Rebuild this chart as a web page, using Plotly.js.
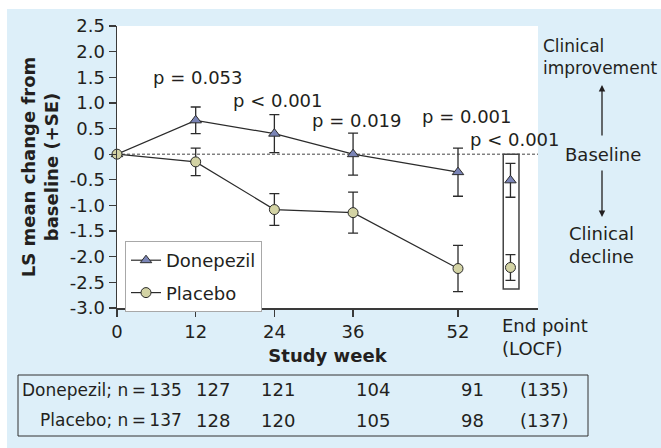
<!DOCTYPE html>
<html>
<head>
<meta charset="utf-8">
<script src="https://cdn.plot.ly/plotly-3.0.1.min.js"></script>
<style>
  html, body { margin: 0; padding: 0; background: #ffffff; }
  #chart { position: absolute; left: 7px; top: 9px; width: 654px; height: 439px; }
</style>
</head>
<body>
<div id="chart"></div>
<script>
// ---- data ----
var weeks = [0, 12, 24, 36, 52];
var weekLabels = ['0', '12', '24', '36', '52'];
var donepezilMean = [0, 0.66, 0.40, 0.00, -0.35];
var donepezilSE   = [0, 0.26, 0.37, 0.41, 0.47];
var placeboMean   = [0, -0.15, -1.08, -1.14, -2.23];
var placeboSE     = [0, 0.27, 0.31, 0.40, 0.45];
var donepezilEnd = -0.51, donepezilEndSE = 0.33;
var placeboEnd = -2.21, placeboEndSE = 0.25;
var pLabels = ['p = 0.053', 'p < 0.001', 'p = 0.019', 'p = 0.001', 'p < 0.001'];
var yTickVals = [-3, -2.5, -2, -1.5, -1, -0.5, 0, 0.5, 1, 1.5, 2, 2.5];
var yTickText = ['-3.0', '-2.5', '-2.0', '-1.5', '-1.0', '-0.5', '0', '0.5', '1.0', '1.5', '2.0', '2.5'];
var donepezilN = ['Donepezil; n\u2009=\u2009135', '127', '121', '104', '91', '(135)'];
var placeboN   = ['Placebo; n\u2009=\u2009137', '128', '120', '105', '98', '(137)'];

// ---- layout helpers (absolute page pixels -> paper) ----
var PL = 117, PR = 538, PT = 26, PB = 308;
function xp(x) { return (x - PL) / (PR - PL); }
function yp(y) { return (PB - y) / (PB - PT); }
var endX = 60;              // x position of the LOCF end point column
var FONT = 'DejaVu Sans, Arial, sans-serif';
var INK = '#231f20';

var donColor = '#7a84b6', plaColor = '#d3d3a4';

var traces = [
  {
    x: weeks, y: donepezilMean, name: 'Donepezil', legendgroup: 'a',
    mode: 'lines+markers', cliponaxis: false,
    line: { color: '#2b2b2b', width: 1.2 },
    marker: { symbol: 'triangle-up', size: 10, color: donColor, line: { color: '#2b2b2b', width: 1 } },
    error_y: { type: 'data', array: donepezilSE, visible: true, color: '#2b2b2b', thickness: 1.3, width: 5 }
  },
  {
    x: weeks, y: placeboMean, name: 'Placebo', legendgroup: 'b',
    mode: 'lines+markers', cliponaxis: false,
    line: { color: '#2b2b2b', width: 1.2 },
    marker: { symbol: 'circle', size: 10, color: plaColor, line: { color: '#2b2b2b', width: 1 } },
    error_y: { type: 'data', array: placeboSE, visible: true, color: '#2b2b2b', thickness: 1.3, width: 5 }
  },
  {
    x: [endX], y: [donepezilEnd], showlegend: false, mode: 'markers', cliponaxis: false,
    marker: { symbol: 'triangle-up', size: 10, color: donColor, line: { color: '#2b2b2b', width: 1 } },
    error_y: { type: 'data', array: [donepezilEndSE], visible: true, color: '#2b2b2b', thickness: 1.3, width: 5 }
  },
  {
    x: [endX], y: [placeboEnd], showlegend: false, mode: 'markers', cliponaxis: false,
    marker: { symbol: 'circle', size: 10, color: plaColor, line: { color: '#2b2b2b', width: 1 } },
    error_y: { type: 'data', array: [placeboEndSE], visible: true, color: '#2b2b2b', thickness: 1.3, width: 5 }
  }
];

var ann = [];
// p-value labels
var pPos = [[197, 77], [277, 100], [356, 120], [466, 116], [514, 139]];
for (var i = 0; i < pLabels.length; i++) {
  ann.push({ xref: 'paper', yref: 'paper', x: xp(pPos[i][0]), y: yp(pPos[i][1]),
    xanchor: 'center', yanchor: 'middle', text: pLabels[i], showarrow: false,
    font: { family: FONT, size: 18, color: INK } });
}
// End point tick label
ann.push({ xref: 'paper', yref: 'paper', x: xp(500), y: yp(337), xanchor: 'left', yanchor: 'middle',
  align: 'left', text: 'End point<br>(LOCF)', showarrow: false, font: { family: FONT, size: 18, color: INK } });
// Right-side annotations
ann.push({ xref: 'paper', yref: 'paper', x: xp(541), y: yp(57), xanchor: 'left', yanchor: 'middle',
  align: 'left', text: 'Clinical<br>improvement', showarrow: false, font: { family: FONT, size: 17, color: INK } });
ann.push({ xref: 'paper', yref: 'paper', x: xp(603), y: yp(154), xanchor: 'center', yanchor: 'middle',
  text: 'Baseline', showarrow: false, font: { family: FONT, size: 18, color: INK } });
ann.push({ xref: 'paper', yref: 'paper', x: xp(601), y: yp(245), xanchor: 'center', yanchor: 'middle',
  align: 'center', text: 'Clinical<br>decline', showarrow: false, font: { family: FONT, size: 18, color: INK } });
// arrows
ann.push({ xref: 'paper', yref: 'paper', x: xp(602), y: yp(85), ax: 0, ay: 52, text: '', showarrow: true,
  arrowhead: 2, arrowsize: 1, arrowwidth: 1.3, arrowcolor: INK });
ann.push({ xref: 'paper', yref: 'paper', x: xp(602), y: yp(217), ax: 0, ay: -48, text: '', showarrow: true,
  arrowhead: 2, arrowsize: 1, arrowwidth: 1.3, arrowcolor: INK });
// table
var colX = [213, 278, 373, 472, 544];
var rowY = [390, 420];
[donepezilN, placeboN].forEach(function (row, r) {
  ann.push({ xref: 'paper', yref: 'paper', x: xp(184), y: yp(rowY[r]), xanchor: 'right', yanchor: 'middle',
    text: row[0], showarrow: false, font: { family: FONT, size: 17, color: INK } });
  for (var c = 1; c < row.length; c++) {
    ann.push({ xref: 'paper', yref: 'paper', x: xp(colX[c - 1]), y: yp(rowY[r]), xanchor: 'center', yanchor: 'middle',
      text: row[c], showarrow: false, font: { family: FONT, size: 18, color: INK } });
  }
});

var shapes = [
  // baseline dashed line
  { type: 'line', xref: 'paper', yref: 'y', x0: 0, x1: 1, y0: 0, y1: 0, layer: 'below',
    line: { color: '#444', width: 1, dash: '3px,2px' } },
  // end point box
  { type: 'rect', xref: 'x', yref: 'y', x0: 58.9, x1: 61.3, y0: 0, y1: -2.63,
    line: { color: '#444', width: 1.5 }, fillcolor: 'rgba(0,0,0,0)' },
  // table box
  { type: 'rect', xref: 'paper', yref: 'paper', x0: xp(18), x1: xp(588), y0: yp(375), y1: yp(436),
    line: { color: '#333', width: 1 }, fillcolor: 'rgba(0,0,0,0)' }
];

var layout = {
  width: 654, height: 439,
  margin: { l: 110, r: 123, t: 17, b: 140 },
  paper_bgcolor: '#ddeff9',
  plot_bgcolor: '#ffffff',
  font: { family: FONT, size: 18, color: INK },
  showlegend: true,
  legend: {
    x: xp(125), y: yp(241), xanchor: 'left', yanchor: 'top',
    bgcolor: '#ffffff', bordercolor: '#a8a8a8', borderwidth: 1,
    font: { family: FONT, size: 18, color: INK },
    traceorder: 'grouped', tracegroupgap: 6
  },
  xaxis: {
    range: [0, 64.2], tickvals: weeks, ticktext: weekLabels,
    showgrid: false, zeroline: false, showline: true, linecolor: '#3a3a3a', linewidth: 1.5,
    ticks: 'outside', ticklen: 7, tickcolor: '#3a3a3a', tickwidth: 1.3,
    tickfont: { family: FONT, size: 18, color: INK },
    title: { text: '<b>Study week</b>', font: { family: FONT, size: 18, color: INK }, standoff: 8 }
  },
  yaxis: {
    range: [-3, 2.5], tickvals: yTickVals, ticktext: yTickText,
    showgrid: false, zeroline: false, showline: true, linecolor: '#3a3a3a', linewidth: 1.5,
    ticks: 'outside', ticklen: 7, tickcolor: '#3a3a3a', tickwidth: 1.3,
    tickfont: { family: FONT, size: 18, color: INK },
    title: { text: '<b>LS mean change from<br>baseline (+SE)</b>', font: { family: FONT, size: 18, color: INK }, standoff: 6 }
  },
  annotations: ann,
  shapes: shapes
};

Plotly.newPlot('chart', traces, layout, { displayModeBar: false, staticPlot: true });
</script>
</body>
</html>
